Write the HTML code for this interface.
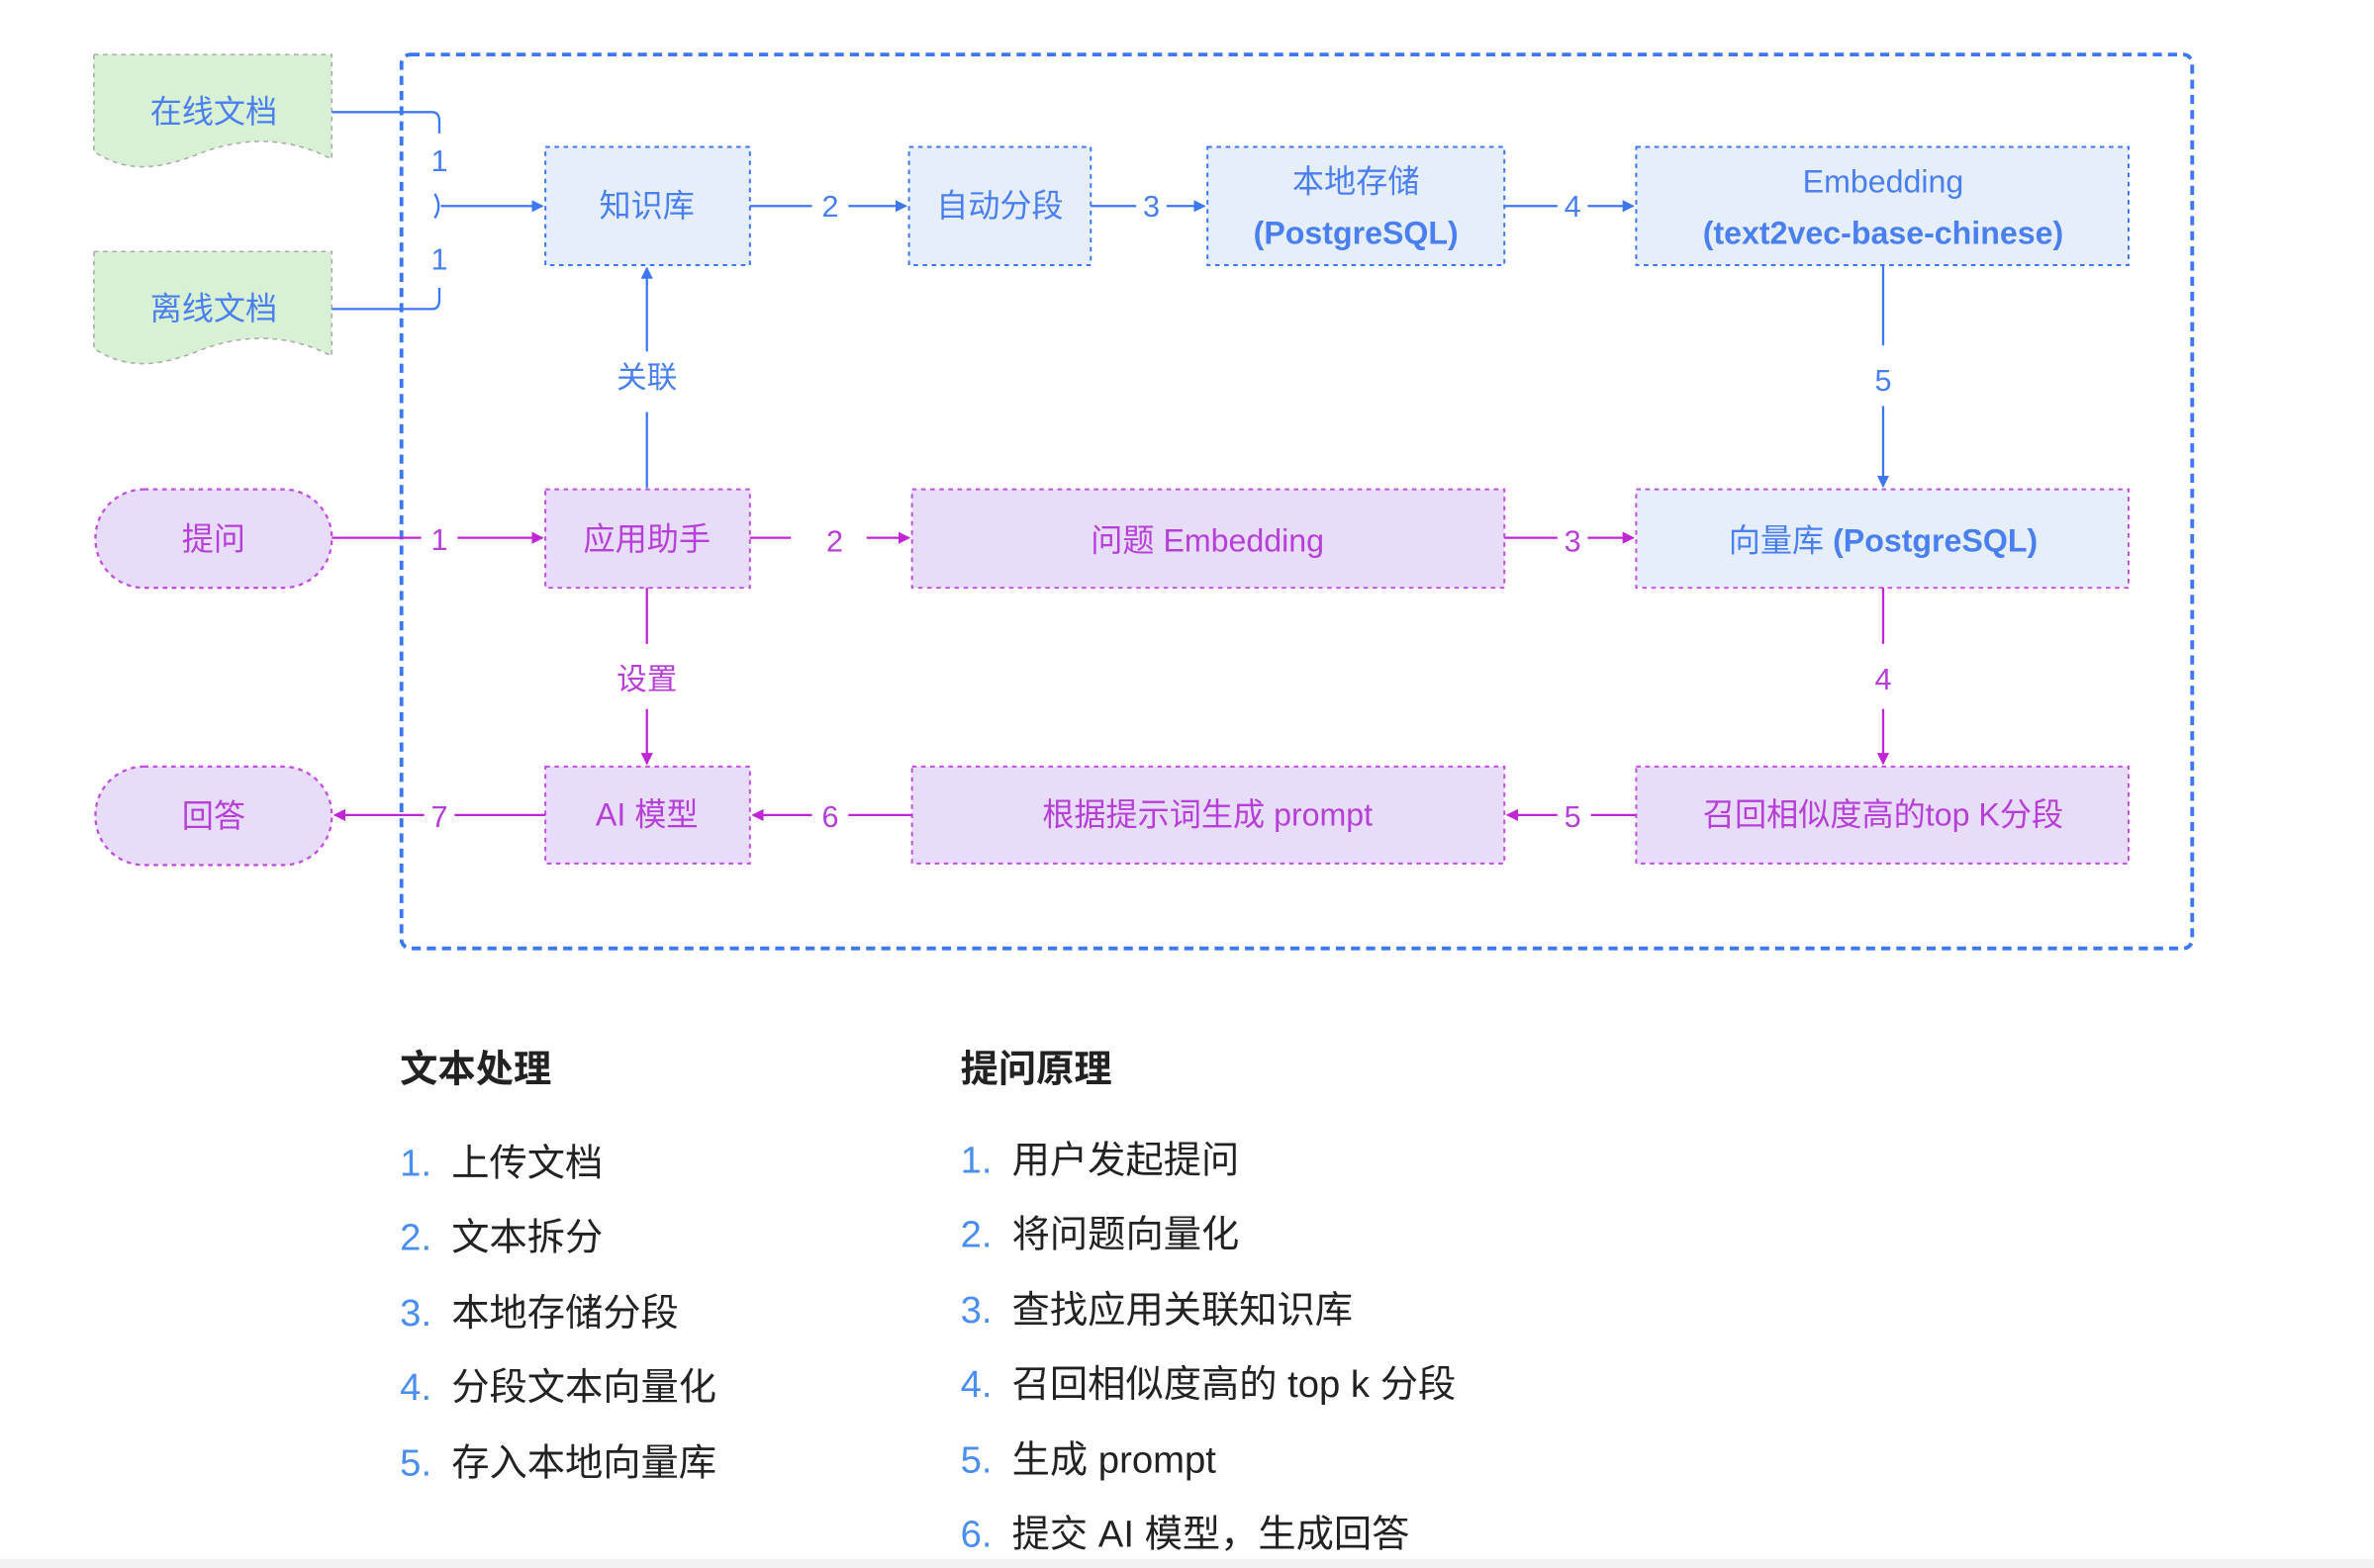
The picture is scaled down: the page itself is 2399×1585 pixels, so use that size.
<!DOCTYPE html>
<html><head><meta charset="utf-8"><style>
html,body{margin:0;padding:0;background:#fff;}
svg{display:block;}
text{font-family:"Liberation Sans","Noto Sans CJK SC",sans-serif;}
</style></head><body>
<svg width="2399" height="1585" viewBox="0 0 1567 1035" preserveAspectRatio="none" xmlns="http://www.w3.org/2000/svg">
<defs>
<marker id="ab" markerWidth="8" markerHeight="8" refX="7" refY="4" orient="auto" markerUnits="userSpaceOnUse"><path d="M0,0 L8,4 L0,8 z" fill="#3d78f2"/></marker>
<marker id="ap" markerWidth="8" markerHeight="8" refX="7" refY="4" orient="auto" markerUnits="userSpaceOnUse"><path d="M0,0 L8,4 L0,8 z" fill="#c026d3"/></marker>
</defs>
<rect x="0" y="1029" width="1567" height="6" fill="#f2f2f2"/>
<rect x="265" y="36" width="1182" height="590" rx="6" fill="none" stroke="#3d78f2" stroke-width="2.5" stroke-dasharray="6,4"/>
<path d="M62,36 H219 V105 C190,90 160,90 130,102 C100,114 80,112 62,100 Z" fill="#d8f1d4" stroke="#aaa" stroke-width="1" stroke-dasharray="3,3"/>
<path d="M62,166 H219 V235 C190,220 160,220 130,232 C100,244 80,242 62,230 Z" fill="#d8f1d4" stroke="#aaa" stroke-width="1" stroke-dasharray="3,3"/>
<text x="141" y="81" font-size="21" fill="#4a7ff0" text-anchor="middle">在线文档</text>
<text x="141" y="211" font-size="21" fill="#4a7ff0" text-anchor="middle">离线文档</text>
<rect x="63" y="323" width="156" height="65" rx="32" fill="#e8dcfb" stroke="#c34fe0" stroke-width="1.5" stroke-dasharray="3,3"/>
<rect x="63" y="506" width="156" height="65" rx="32" fill="#e8dcfb" stroke="#c34fe0" stroke-width="1.5" stroke-dasharray="3,3"/>
<text x="141" y="363" font-size="21" fill="#b63fd8" text-anchor="middle">提问</text>
<text x="141" y="546" font-size="21" fill="#b63fd8" text-anchor="middle">回答</text>
<g fill="#e6eefc" stroke="#3d78f2" stroke-width="1.3" stroke-dasharray="3,3">
<rect x="360" y="97" width="135" height="78"/>
<rect x="600" y="97" width="120" height="78"/>
<rect x="797" y="97" width="196" height="78"/>
<rect x="1080" y="97" width="325" height="78"/>
</g>
<g font-size="21" fill="#4a7ff0" text-anchor="middle">
<text x="427" y="143">知识库</text>
<text x="660" y="143">自动分段</text>
<text x="895" y="127">本地存储</text>
<text x="895" y="161" font-weight="bold">(PostgreSQL)</text>
<text x="1243" y="127">Embedding</text>
<text x="1243" y="161" font-weight="bold">(text2vec-base-chinese)</text>
</g>
<g fill="#e8dcfb" stroke="#c34fe0" stroke-width="1.3" stroke-dasharray="3,3">
<rect x="360" y="323" width="135" height="65"/>
<rect x="602" y="323" width="391" height="65"/>
<rect x="1080" y="323" width="325" height="65" fill="#e6eefc"/>
<rect x="360" y="506" width="135" height="64"/>
<rect x="602" y="506" width="391" height="64"/>
<rect x="1080" y="506" width="325" height="64"/>
</g>
<g font-size="21" fill="#b63fd8" text-anchor="middle">
<text x="427" y="363">应用助手</text>
<text x="797" y="364">问题 Embedding</text>
<text x="427" y="545">AI 模型</text>
<text x="797" y="545">根据提示词生成 prompt</text>
<text x="1243" y="545">召回相似度高的top K分段</text>
</g>
<text x="1243" y="364" font-size="21" fill="#4a7ff0" text-anchor="middle">向量库 <tspan font-weight="bold">(PostgreSQL)</tspan></text>
<g stroke="#3d78f2" stroke-width="1.5" fill="none">
<path d="M219,74 H285 Q290,74 290,80 V88"/>
<path d="M219,204 H285 Q290,204 290,198 V190"/>
<path d="M287,128 Q292,136 287,144"/>
<path d="M291,136 H358" marker-end="url(#ab)"/>
<path d="M495,136 H536 M560,136 H598" marker-end="url(#ab)"/>
<path d="M720,136 H750 M770,136 H795" marker-end="url(#ab)"/>
<path d="M993,136 H1028 M1048,136 H1078" marker-end="url(#ab)"/>
<path d="M427,322 V272 M427,232 V177" marker-end="url(#ab)"/>
<path d="M1243,175 V228 M1243,268 V321" marker-end="url(#ab)"/>
</g>
<g font-size="20" fill="#4a7ff0" text-anchor="middle">
<text x="290" y="113">1</text>
<text x="290" y="178">1</text>
<text x="548" y="143">2</text>
<text x="760" y="143">3</text>
<text x="1038" y="143">4</text>
<text x="427" y="256">关联</text>
<text x="1243" y="258">5</text>
</g>
<g stroke="#c026d3" stroke-width="1.5" fill="none">
<path d="M219,355 H278 M302,355 H358" marker-end="url(#ap)"/>
<path d="M495,355 H522 M572,355 H600" marker-end="url(#ap)"/>
<path d="M993,355 H1028 M1048,355 H1078" marker-end="url(#ap)"/>
<path d="M427,388 V425 M427,468 V504" marker-end="url(#ap)"/>
<path d="M1243,388 V425 M1243,468 V504" marker-end="url(#ap)"/>
<path d="M1080,538 H1050 M1028,538 H995" marker-end="url(#ap)"/>
<path d="M602,538 H560 M536,538 H497" marker-end="url(#ap)"/>
<path d="M360,538 H300 M280,538 H221" marker-end="url(#ap)"/>
</g>
<g font-size="20" fill="#b63fd8" text-anchor="middle">
<text x="290" y="363">1</text>
<text x="551" y="364">2</text>
<text x="1038" y="364">3</text>
<text x="427" y="455">设置</text>
<text x="1243" y="455">4</text>
<text x="1038" y="546">5</text>
<text x="548" y="546">6</text>
<text x="290" y="546">7</text>
</g>
<g font-size="25" fill="#222">
<text x="264" y="714" font-weight="bold">文本处理</text>
<text x="634" y="714" font-weight="bold">提问原理</text>
</g>
<g font-size="25">
<text x="264" y="776"><tspan fill="#4a8ff0">1.</tspan><tspan x="298" fill="#222">上传文档</tspan></text>
<text x="264" y="825"><tspan fill="#4a8ff0">2.</tspan><tspan x="298" fill="#222">文本拆分</tspan></text>
<text x="264" y="875"><tspan fill="#4a8ff0">3.</tspan><tspan x="298" fill="#222">本地存储分段</tspan></text>
<text x="264" y="924"><tspan fill="#4a8ff0">4.</tspan><tspan x="298" fill="#222">分段文本向量化</tspan></text>
<text x="264" y="974"><tspan fill="#4a8ff0">5.</tspan><tspan x="298" fill="#222">存入本地向量库</tspan></text>
<text x="634" y="774"><tspan fill="#4a8ff0">1.</tspan><tspan x="668" fill="#222">用户发起提问</tspan></text>
<text x="634" y="823"><tspan fill="#4a8ff0">2.</tspan><tspan x="668" fill="#222">将问题向量化</tspan></text>
<text x="634" y="873"><tspan fill="#4a8ff0">3.</tspan><tspan x="668" fill="#222">查找应用关联知识库</tspan></text>
<text x="634" y="922"><tspan fill="#4a8ff0">4.</tspan><tspan x="668" fill="#222">召回相似度高的 top k 分段</tspan></text>
<text x="634" y="972"><tspan fill="#4a8ff0">5.</tspan><tspan x="668" fill="#222">生成 prompt</tspan></text>
<text x="634" y="1021"><tspan fill="#4a8ff0">6.</tspan><tspan x="668" fill="#222">提交 AI 模型，生成回答</tspan></text>
</g>
</svg>
</body></html>
